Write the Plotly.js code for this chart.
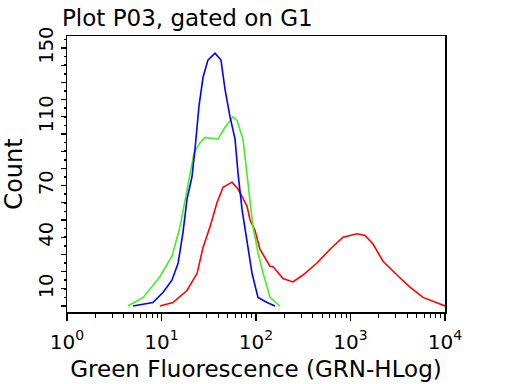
<!DOCTYPE html>
<html>
<head>
<meta charset="utf-8">
<script src="https://cdn.plot.ly/plotly-3.0.1.min.js"></script>
<style>html,body{margin:0;padding:0;background:#fff;}#chart{width:512px;height:384px;}</style>
</head>
<body>
<div id="chart"></div>
<script>
// Fluorescence (GRN-HLog) values and counts
const blueX  = [5.0, 6.4, 8.1, 10.4, 12.9, 15.0, 16.9, 18.6, 21.0, 22.6, 24.9, 27.5, 31.0, 36.8, 42.6, 47.0, 53.1, 60.0, 64.6, 71.2, 80.4, 90.8, 105, 131, 159];
const blueY  = [0, 1, 2, 8, 15, 25, 43, 62, 75, 91, 116, 133, 143, 147, 143, 126, 110, 97, 77, 56, 38, 19, 5, 2, 0];

const greenX = [4.4, 6.4, 9.6, 12.9, 15.7, 19.1, 22.1, 25.5, 28.8, 39.6, 47.0, 57.1, 62.9, 72.8, 82.3, 93.0, 105, 119, 141, 179];
const greenY = [0, 5, 17, 29, 46, 72, 89, 95, 98, 97, 104, 110, 108, 97, 73, 46, 31, 19, 5, 0];

const redX   = [9.6, 13.2, 18.6, 23.8, 27.5, 32.6, 38.6, 44.8, 55.7, 64.6, 80.4, 86.5, 97.5, 110, 141, 151, 193, 246, 314, 442, 607, 833, 1172, 1423, 1730, 2207, 3105, 4263, 5848, 8222, 10000];
const redY   = [0, 2, 9, 19, 34, 46, 60, 69, 72, 68, 58, 50, 44, 33, 23, 23, 16, 14, 18, 25, 33, 40, 42, 41, 36, 26, 18, 11, 5, 2, 0];

const xTickVals = [1, 10, 100, 1000, 10000];
const xTickText = ['10<sup>0</sup>', '10<sup>1</sup>', '10<sup>2</sup>', '10<sup>3</sup>', '10<sup>4</sup>'];
const yTickVals = [0, 10, 20, 30, 40, 50, 60, 70, 80, 90, 100, 110, 120, 130, 140, 150];
const yTickText = ['', '10', '', '', '40', '', '', '70', '', '', '', '110', '', '', '', '150'];

const xMinor = [];
[1, 10, 100, 1000].forEach(d => { for (let k = 2; k <= 9; k++) xMinor.push(d * k); });

const font = 'DejaVu Sans, Verdana, sans-serif';

const traces = [
  {x: redX, y: redY, mode: 'lines', line: {color: '#ff0000', width: 1.6}, hoverinfo: 'skip'},
  {x: greenX, y: greenY, mode: 'lines', line: {color: '#44ee22', width: 1.6}, hoverinfo: 'skip'},
  {x: blueX, y: blueY, mode: 'lines', line: {color: '#0000ff', width: 1.6}, hoverinfo: 'skip'}
];

const layout = {
  width: 512, height: 384,
  margin: {l: 67, r: 67, t: 36, b: 72},
  paper_bgcolor: '#ffffff', plot_bgcolor: '#ffffff',
  showlegend: false,
  font: {family: font, color: '#000', size: 17},
  title: {text: 'Plot P03, gated on G1', x: 62/512, xref: 'container', xanchor: 'left',
          y: 1 - 18/384, yref: 'container', yanchor: 'middle',
          font: {family: font, size: 23, color: '#000'}},
  xaxis: {
    type: 'log', range: [0, 4],
    tickmode: 'array', tickvals: xTickVals, ticktext: xTickText,
    ticks: 'outside', ticklen: 7, tickwidth: 1.5, tickcolor: '#000',
    minor: {tickmode: 'array', tickvals: xMinor, ticks: 'outside', ticklen: 4, tickwidth: 1, tickcolor: '#000'},
    showgrid: false, zeroline: false,
    showline: true, linecolor: '#000', linewidth: 1.5, mirror: true,
    tickfont: {size: 20}, ticklabelstandoff: 4,
    title: {text: 'Green Fluorescence (GRN-HLog)', standoff: 8, font: {size: 23}}
  },
  yaxis: {
    range: [-3.5, 157],
    tickmode: 'array', tickvals: yTickVals, ticktext: yTickText,
    ticks: 'outside', ticklen: 5, tickwidth: 1.2, tickcolor: '#000',
    minor: {dtick: 5, ticks: 'outside', ticklen: 2, tickwidth: 1.5, tickcolor: '#000'},
    tickangle: -90,
    showgrid: false, zeroline: false,
    showline: true, linecolor: '#000', linewidth: 1.5, mirror: true,
    tickfont: {size: 19.5},
    title: {text: 'Count', standoff: 5, font: {size: 24}}
  }
};

Plotly.newPlot('chart', traces, layout, {staticPlot: true, displayModeBar: false});
</script>
</body>
</html>
